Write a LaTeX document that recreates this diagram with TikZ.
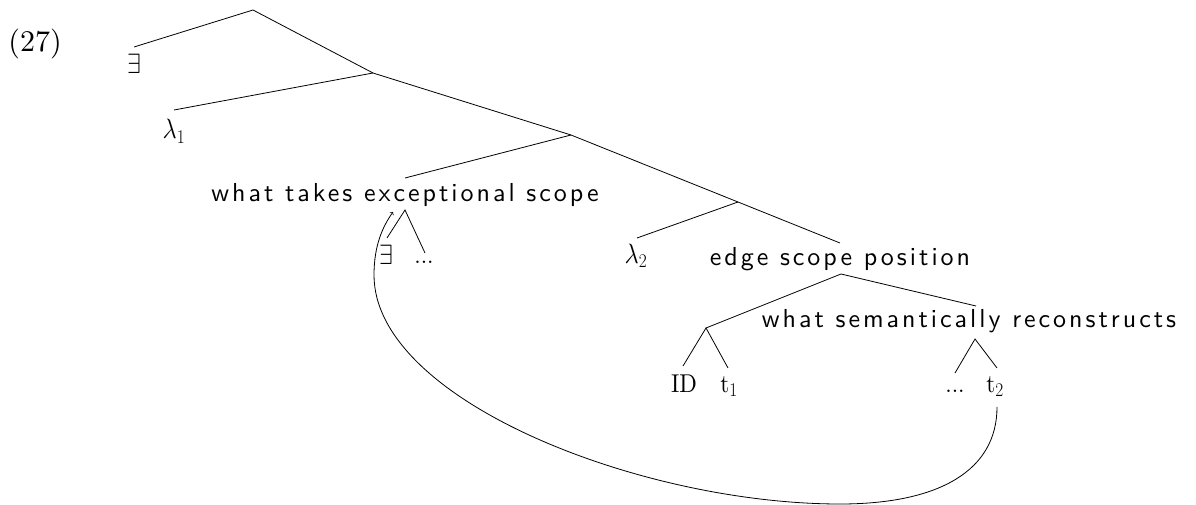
\documentclass[tikz,border=0pt]{standalone}
\usepackage{fontspec}
\newfontfamily\labsans{lmsans10-regular.otf}[LetterSpace=11.5]
\newfontfamily\labroman{lmroman10-regular.otf}
\newcommand{\tallbox}[1]{\scalebox{1}[1.12]{#1}}
\begin{document}
\begin{tikzpicture}[x=1pt,y=-1pt,
  lab/.style={anchor=base,inner sep=0pt,font={\labroman\fontsize{23}{27}\selectfont}},
  sanslab/.style={anchor=base,inner sep=0pt,font={\labsans\fontsize{26}{30}\selectfont}},
  branch/.style={line width=0.8pt},
  mv/.style={line width=0.8pt,->}]
\useasboundingbox (0,0) rectangle (1196,505);
% example number
\node[anchor=base,inner sep=0pt,font={\labroman\fontsize{30}{34}\selectfont}] (num) at (35,52) {(27)};
% labels
\node[lab] (ex1) at (134,74) {\tallbox{$\exists$}};
\node[lab] (lam1) at (174,139) {\tallbox{$\lambda_1$}};
\node[sanslab] (wtes) at (405,201) {what takes exceptional scope};
\node[lab] (ex2) at (386,264) {\tallbox{$\exists$}};
\node[lab] (dots1) at (424,263) {...};
\node[lab] (lam2) at (636,263) {\tallbox{$\lambda_2$}};
\node[sanslab] (esp) at (840,265) {edge scope position};
\node[sanslab] (wsr) at (969,327) {what semantically reconstructs};
\node[lab] (id) at (684,392) {\tallbox{ID}};
\node[lab] (t1) at (729,392) {\tallbox{t$_1$}};
\node[lab] (dots2) at (955,392) {...};
\node[lab] (t2) at (995,392) {\tallbox{t$_2$}};
% branching points
\coordinate (n0) at (253,10);
\coordinate (n1) at (373,73);
\coordinate (n2) at (571,135);
\coordinate (n3) at (738,202);
\coordinate (n4) at (706,328);
\coordinate (ex1Top) at (134,47);
\coordinate (lam1Top) at (174,110);
\coordinate (wtesTop) at (405,178);
\coordinate (wtesBot) at (405,210);
\coordinate (ex2Top) at (387,238);
\coordinate (dots1Top) at (425,253);
\coordinate (lam2Top) at (637,238);
\coordinate (espTop) at (840,243);
\coordinate (espBot) at (841,274);
\coordinate (wsrTop) at (976,306);
\coordinate (wsrBot) at (975,339);
\coordinate (idTop) at (683,366);
\coordinate (t1Top) at (728,368);
\coordinate (dots2Top) at (955,373);
\coordinate (t2Top) at (997,368);
\coordinate (t2Bot) at (997,407);
\coordinate (low) at (840,504);
\coordinate (leftmost) at (374,275);
\coordinate (arrTip) at (393,212);
% tree
\draw[branch] (ex1Top) -- (n0) -- (n1);
\draw[branch] (lam1Top) -- (n1) -- (n2);
\draw[branch] (wtesTop) -- (n2) -- (n3);
\draw[branch] (lam2Top) -- (n3) -- (espTop);
\draw[branch] (ex2Top) -- (wtesBot) -- (dots1Top);
\draw[branch] (n4) -- (espBot) -- (wsrTop);
\draw[branch] (idTop) -- (n4) -- (t1Top);
\draw[branch] (dots2Top) -- (wsrBot) -- (t2Top);
% movement arrow
\draw[mv] (t2Bot) .. controls (997,470) and (940,504) .. (low)
  .. controls (640,504) and (374,400) .. (leftmost)
  .. controls (374,245) and (383,226) .. (arrTip);
\end{tikzpicture}
\end{document}
